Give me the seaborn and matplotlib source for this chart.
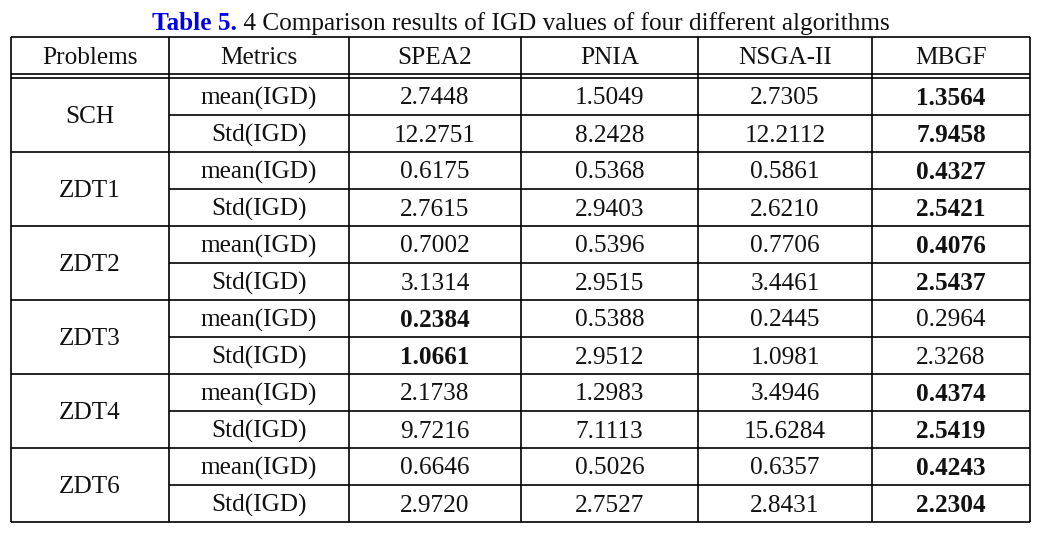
import matplotlib
matplotlib.use("Agg")
import matplotlib.pyplot as plt
import seaborn as sns

# table content
problems = ["SCH", "ZDT1", "ZDT2", "ZDT3", "ZDT4", "ZDT6"]
metrics = ["mean(IGD)", "Std(IGD)"]
algorithms = ["SPEA2", "PNIA", "NSGA-II", "MBGF"]

spea2 = ["2.7448", "12.2751", "0.6175", "2.7615", "0.7002", "3.1314",
         "0.2384", "1.0661", "2.1738", "9.7216", "0.6646", "2.9720"]
pnia = ["1.5049", "8.2428", "0.5368", "2.9403", "0.5396", "2.9515",
        "0.5388", "2.9512", "1.2983", "7.1113", "0.5026", "2.7527"]
nsga2 = ["2.7305", "12.2112", "0.5861", "2.6210", "0.7706", "3.4461",
         "0.2445", "1.0981", "3.4946", "15.6284", "0.6357", "2.8431"]
mbgf = ["1.3564", "7.9458", "0.4327", "2.5421", "0.4076", "2.5437",
        "0.2964", "2.3268", "0.4374", "2.5419", "0.4243", "2.2304"]

# best value per row (shown in bold)
best = ["MBGF", "MBGF", "MBGF", "MBGF", "MBGF", "MBGF",
        "SPEA2", "SPEA2", "MBGF", "MBGF", "MBGF", "MBGF"]

columns = {"SPEA2": spea2, "PNIA": pnia, "NSGA-II": nsga2, "MBGF": mbgf}

sns.set_theme(style="white")
plt.rcParams["font.family"] = ["Liberation Serif", "DejaVu Serif"]

fig = plt.figure(figsize=(10.39, 5.33), dpi=100)
ax = fig.add_axes([0, 0, 1, 1])
ax.set_xlim(0, 1039)
ax.set_ylim(533, 0)
ax.axis("off")

fs = 18.2
dy = 2  # nudge text down a little to sit like the reference
col_edges = [11, 169, 349, 521, 698, 872, 1030]
top, head_a, head_b = 37, 74, 78
row_h = (522 - head_b) / 12
centers = [(col_edges[i] + col_edges[i + 1]) / 2 for i in range(6)]

lw = 1.2
# outer + column lines
for x in col_edges:
    ax.vlines(x, top, 522, color="black", lw=lw)
ax.hlines([top, head_a, head_b, 522], col_edges[0], col_edges[-1], color="black", lw=lw)
for r in range(1, 12):
    y = head_b + r * row_h
    x0 = col_edges[0] if r % 2 == 0 else col_edges[1]
    ax.hlines(y, x0, col_edges[-1], color="black", lw=lw)

# header
headers = ["Problems", "Metrics"] + algorithms
for cx, h in zip(centers, headers):
    ax.text(cx, (top + head_a) / 2 + dy, h, ha="center", va="center", fontsize=fs, color="#111111")

# body
for i, p in enumerate(problems):
    ax.text(centers[0], head_b + (2 * i + 1) * row_h + dy, p, ha="center", va="center",
            fontsize=fs, color="#111111")
for r in range(12):
    cy = head_b + (r + 0.5) * row_h + dy
    ax.text(centers[1], cy, metrics[r % 2], ha="center", va="center", fontsize=fs, color="#111111")
    for j, alg in enumerate(algorithms):
        w = "bold" if best[r] == alg else "normal"
        ax.text(centers[2 + j], cy, columns[alg][r], ha="center", va="center",
                fontsize=fs, fontweight=w, color="#111111")

# title
t1 = ax.text(152, 30, "Table 5.", ha="left", va="baseline", fontsize=fs,
             fontweight="bold", color="#0000ee")
ax.annotate(" 4 Comparison results of IGD values of four different algorithms",
            xy=(1, 0), xycoords=t1, ha="left", va="bottom", fontsize=fs, color="#111111")

fig.savefig("out.png", dpi=100)
